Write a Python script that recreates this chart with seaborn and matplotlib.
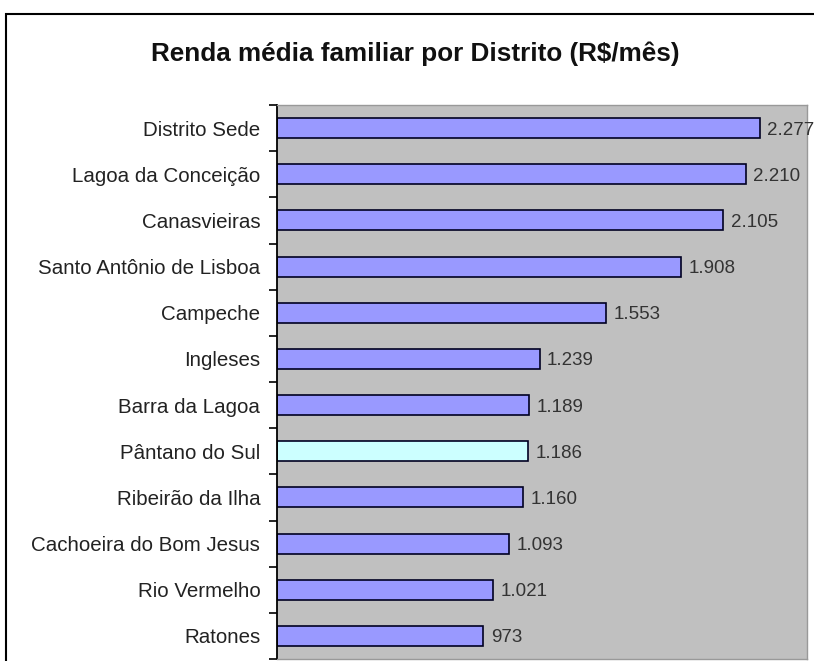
import matplotlib
matplotlib.use("Agg")
import matplotlib.pyplot as plt
import seaborn as sns
import pandas as pd
import numpy as np
from matplotlib.patches import Rectangle

districts = ["Distrito Sede", "Lagoa da Conceição", "Canasvieiras", "Santo Antônio de Lisboa",
             "Campeche", "Ingleses", "Barra da Lagoa", "Pântano do Sul", "Ribeirão da Ilha",
             "Cachoeira do Bom Jesus", "Rio Vermelho", "Ratones"]
income = [2277, 2210, 2105, 1908, 1553, 1239, 1189, 1186, 1160, 1093, 1021, 973]
value_labels = ["2.277", "2.210", "2.105", "1.908", "1.553", "1.239", "1.189", "1.186",
                "1.160", "1.093", "1.021", "973"]
highlight = "Pântano do Sul"

df = pd.DataFrame({"district": districts, "income": income})
palette = {d: ("#CCFFFF" if d == highlight else "#9999FF") for d in districts}

sns.set_style("white")
plt.rcParams["font.family"] = ["Liberation Sans", "DejaVu Sans"]

fig = plt.figure(figsize=(8.14, 6.61), dpi=100)
ax = fig.add_axes([277/814, 1-659/661, (807-277)/814, (659-105)/661])
ax.set_facecolor("#C0C0C0")

sns.barplot(data=df, y="district", x="income", hue="district", palette=palette,
            order=districts, hue_order=districts, orient="h", width=0.43,
            edgecolor="#000022", linewidth=1.2, legend=False, ax=ax, saturation=1)

for i, (v, t) in enumerate(zip(income, value_labels)):
    ax.text(v + 35, i, t, va="center_baseline", ha="left", fontsize=13.5, color="#333333",
            clip_on=False)

ax.set_xlim(0, 2500)
ax.set_ylim(len(districts) - 0.5, -0.5)
ax.set_xlabel("")
ax.set_ylabel("")
ax.set_xticks([])
ax.set_yticks(range(len(districts)))
ax.set_yticklabels(districts, fontsize=14.8, color="#222222")
ax.set_yticks(np.arange(-0.5, len(districts), 1.0), minor=True)
ax.tick_params(axis="y", which="major", length=0, pad=12)
ax.tick_params(axis="y", which="minor", length=6, width=1.2, direction="out", color="black", left=True)
for s in ["top", "right", "bottom"]:
    ax.spines[s].set_color("#999999")
    ax.spines[s].set_linewidth(1)
ax.spines["left"].set_color("black")
ax.spines["left"].set_linewidth(1.3)

fig.text(415/814, 1-51/661, "Renda média familiar por Distrito (R$/mês)", ha="center",
         va="center_baseline", fontsize=18.8, fontweight="bold", color="#111111")

fig.patches.append(Rectangle((6/814, -0.1), 1.2, 1.1 - 14/661, transform=fig.transFigure,
                             fill=False, edgecolor="black", linewidth=1.5))

fig.savefig("out.png", dpi=100)
